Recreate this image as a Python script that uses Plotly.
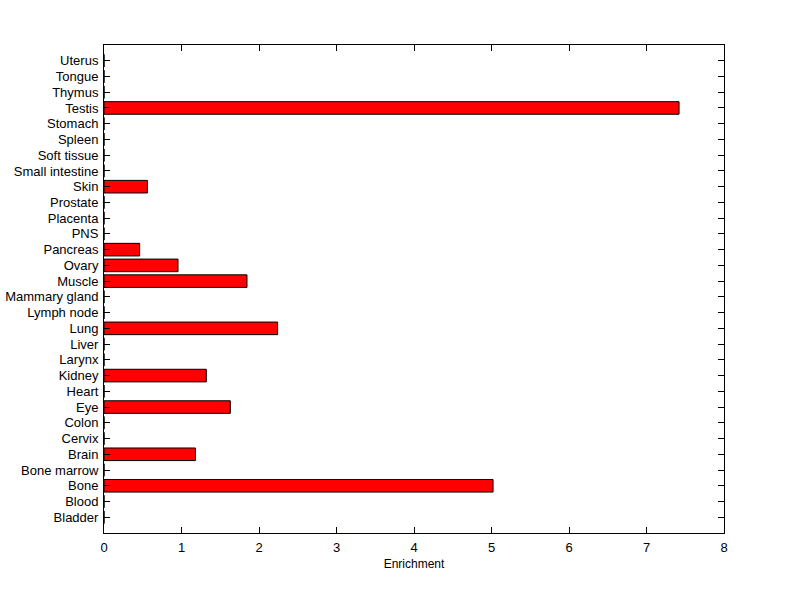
import plotly.graph_objects as go

tissues = ["Bladder", "Blood", "Bone", "Bone marrow", "Brain", "Cervix", "Colon", "Eye",
           "Heart", "Kidney", "Larynx", "Liver", "Lung", "Lymph node", "Mammary gland",
           "Muscle", "Ovary", "Pancreas", "PNS", "Placenta", "Prostate", "Skin",
           "Small intestine", "Soft tissue", "Spleen", "Stomach", "Testis", "Thymus",
           "Tongue", "Uterus"]
enrichment = [0, 0, 5.02, 0, 1.18, 0, 0, 1.63,
              0, 1.32, 0, 0, 2.24, 0, 0,
              1.845, 0.955, 0.46, 0, 0, 0, 0.56,
              0, 0, 0, 0, 7.42, 0,
              0, 0]
x_ticks = [0, 1, 2, 3, 4, 5, 6, 7, 8]

fig = go.Figure()
fig.add_trace(go.Bar(
    x=enrichment, y=list(range(len(tissues))), orientation="h",
    width=0.8,
    marker=dict(color="#ff0000", line=dict(color="black", width=1)),
    hoverinfo="skip",
))

font = dict(family="Liberation Sans, Arial, sans-serif", size=13, color="black")
fig.update_layout(
    width=800, height=599, autosize=False,
    margin=dict(l=104, r=76, t=45, b=66),
    plot_bgcolor="white", paper_bgcolor="white",
    font=font,
    showlegend=False,
)
fig.update_xaxes(
    range=[0, 8], tickmode="array", tickvals=x_ticks, ticktext=[str(t) for t in x_ticks],
    ticks="inside", ticklen=6, tickcolor="black", tickwidth=1,
    showline=True, linecolor="black", linewidth=1, mirror="ticks",
    showgrid=False, zeroline=False,
    title=dict(text="Enrichment", standoff=6, font=dict(family=font["family"], size=12, color="black")),
    tickfont=font,
    ticklabelstandoff=2,
    automargin=False,
)
fig.update_yaxes(
    range=[-1, 30], tickmode="array", tickvals=list(range(len(tissues))), ticktext=tissues,
    ticks="inside", ticklen=6, tickcolor="black", tickwidth=1,
    showline=True, linecolor="black", linewidth=1, mirror="ticks",
    showgrid=False, zeroline=False,
    tickfont=font,
    ticklabelstandoff=2,
    automargin=False,
)

fig.write_html(
    "out.html",
    config={"displayModeBar": False, "staticPlot": True},
    post_script="document.body.style.margin='0';document.body.style.overflow='hidden';",
)
